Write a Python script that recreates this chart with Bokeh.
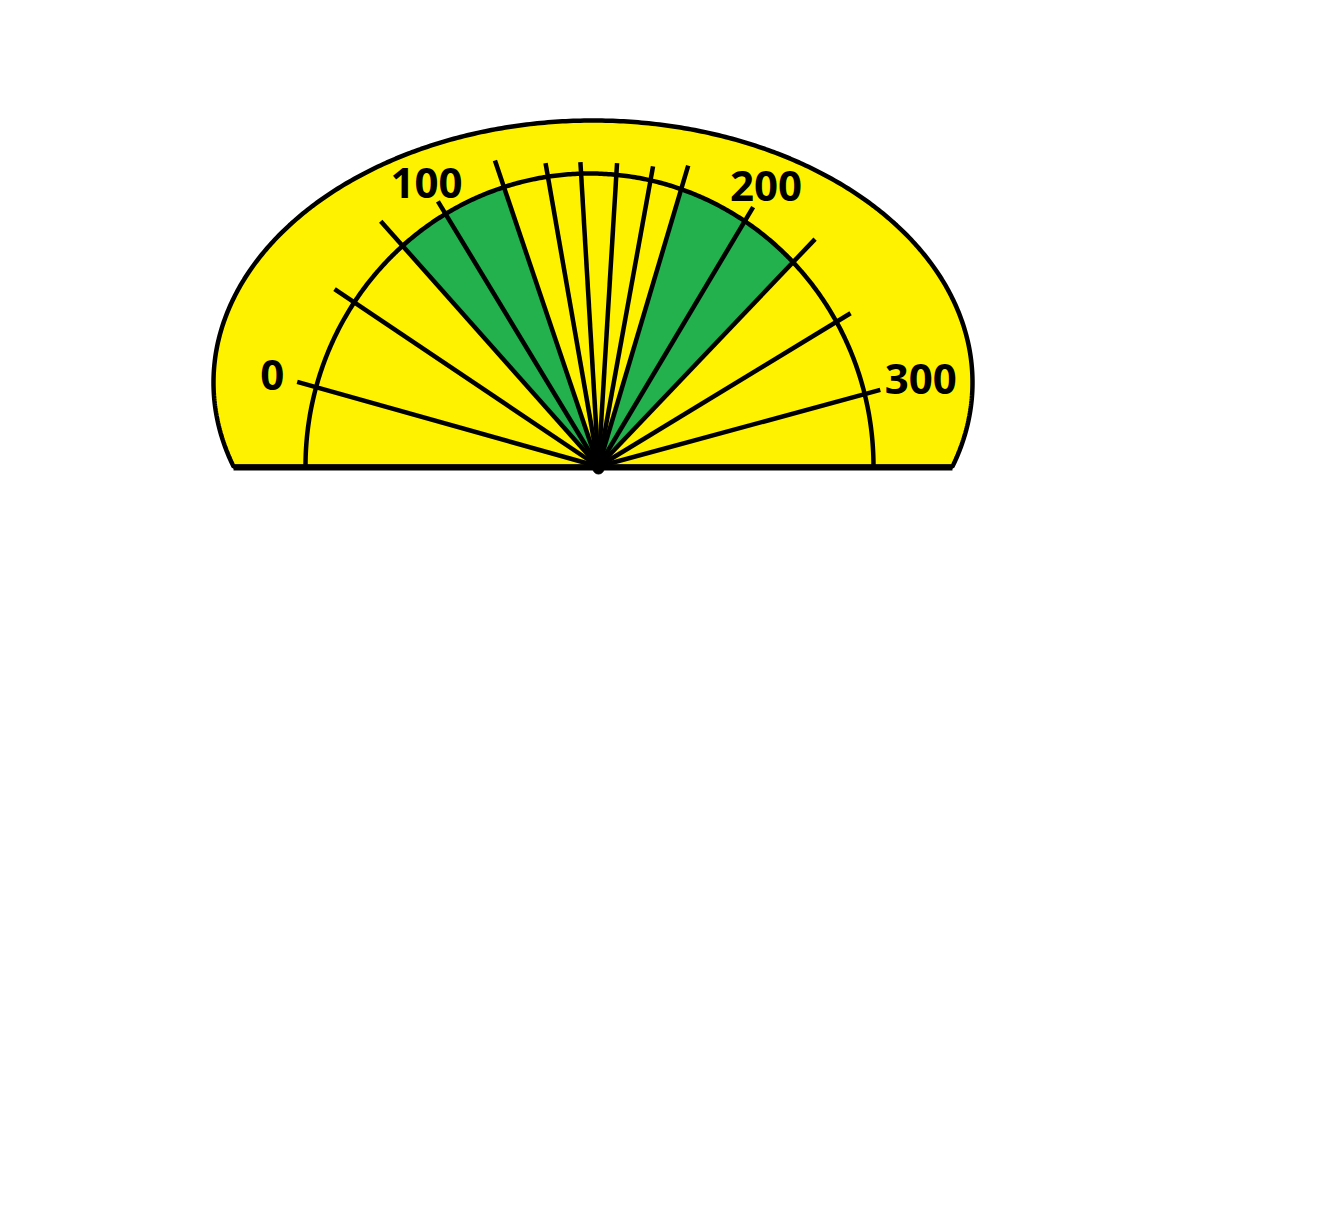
import numpy as np
from bokeh.plotting import figure
from bokeh.models import Range1d, ColumnDataSource
from bokeh.core.properties import value
from bokeh.embed import file_html
from bokeh.resources import INLINE

# ---- data ----
spoke_angle_deg = [164.3, 146.1, 131.6, 121.2, 108.7, 99.9, 93.4,
                   86.5, 79.7, 73.4, 59.2, 46.4, 31.3, 15.2]
spoke_length = [313, 318, 328, 310, 323, 308, 305, 304, 305, 314, 302, 314, 295, 292]
tick_labels = ["0", "100", "200", "300"]
tick_spoke_index = [0, 3, 10, 13]
green_bands = [(2, 4), (9, 11)]   # spokes bounding the green sectors

YELLOW = "#FFF200"
GREEN = "#22B14C"
BLACK = "#000000"

W, H = 1320, 1200
HUB_X, HUB_Y = 598, 466  # hub position on screen

p = figure(width=W, height=H, output_backend="svg", toolbar_location=None,
           x_range=Range1d(-HUB_X, W - HUB_X),
           y_range=Range1d(HUB_Y - H, HUB_Y),
           min_border=0, outline_line_color=None, background_fill_color="white",
           border_fill_color="white")
p.axis.visible = False
p.grid.visible = False

# outer dome (ellipse cut at the baseline)
ocx, ocy, orx, ory = -5.5, 84.0, 379.5, 262.0
t0 = np.arcsin(-ocy / ory)
t = np.linspace(t0, np.pi - t0, 400)
ox = ocx + orx * np.cos(t)
oy = ocy + ory * np.sin(t)
p.patch(ox, oy, fill_color=YELLOW, line_color=BLACK, line_width=4.5)

# inner scale arc (slightly elliptical, hand drawn)
icx, icy, irx, iry = -9.0, 0.0, 284.0, 293.0


def arc_hit(theta):
    c, s = np.cos(theta), np.sin(theta)
    a = (c / irx) ** 2 + (s / iry) ** 2
    b = 2 * (-icx) * c / irx ** 2
    cc = (icx / irx) ** 2 - 1
    r = (-b + np.sqrt(b * b - 4 * a * cc)) / (2 * a)
    return r * c, r * s


# green sectors
for i0, i1 in green_bands:
    th = np.radians(np.linspace(spoke_angle_deg[i0], spoke_angle_deg[i1], 120))
    hx, hy = arc_hit(th)
    p.patch(np.concatenate([[0], hx]), np.concatenate([[0], hy]),
            fill_color=GREEN, line_color=None)

ta = np.linspace(0, np.pi, 400)
p.line(icx + irx * np.cos(ta), icy + iry * np.sin(ta), line_color=BLACK, line_width=4.5)

# spokes
ang = np.radians(spoke_angle_deg)
ln = np.array(spoke_length, dtype=float)
src = ColumnDataSource(dict(x0=np.zeros(len(ang)), y0=np.zeros(len(ang)),
                            x1=ln * np.cos(ang), y1=ln * np.sin(ang)))
p.segment("x0", "y0", "x1", "y1", source=src, line_color=BLACK, line_width=4.5)

# baseline
p.segment(x0=[ox[0]], y0=[-1], x1=[ox[-1]], y1=[-1], line_color=BLACK, line_width=6)

# hub
p.scatter([0], [-2], size=11, color=BLACK)

# tick labels
lab_r = np.array([339, 332, 327, 334])
la = np.radians([spoke_angle_deg[i] for i in tick_spoke_index])
p.text(x=list(lab_r * np.cos(la)), y=list(lab_r * np.sin(la)), text=tick_labels,
       text_font=value("Open Sans"), text_font_style="bold", text_font_size="42px",
       text_align="center", text_baseline="middle", text_color=BLACK)

open("out.html", "w").write(file_html(p, INLINE))
